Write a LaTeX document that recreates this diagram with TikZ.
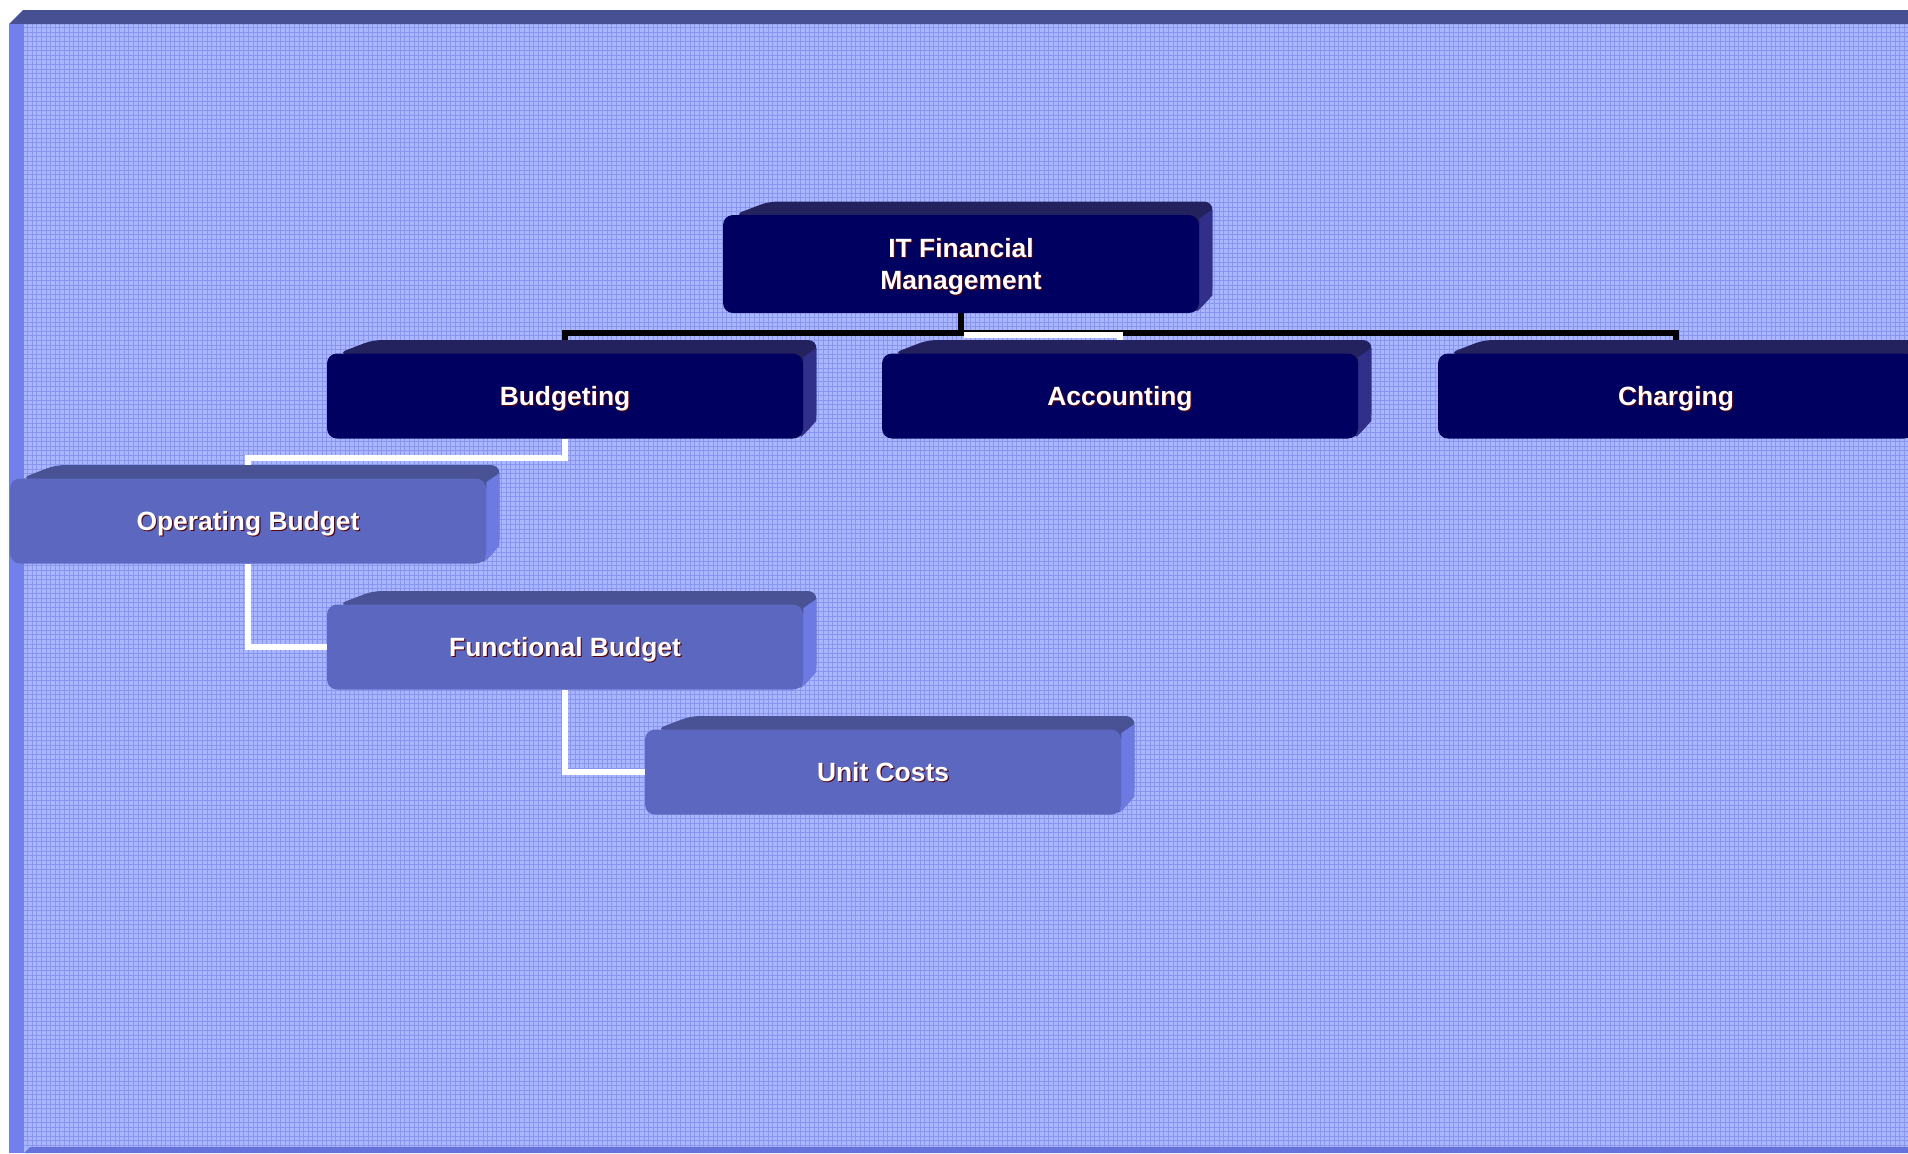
\documentclass[tikz,border=0pt]{standalone}
\usepackage{fontspec}
\setmainfont{Liberation Sans}
\usetikzlibrary{calc}
\definecolor{darkfront}{HTML}{000060}
\definecolor{darktop}{HTML}{23225F}
\definecolor{darkside}{HTML}{30308A}
\definecolor{lightfront}{HTML}{5C68C0}
\definecolor{lighttop}{HTML}{4A5296}
\definecolor{lightside}{HTML}{6C7AE2}
\definecolor{framebg}{HTML}{AAB6FD}
\definecolor{gridc}{HTML}{8896F2}
\definecolor{frametop}{HTML}{485094}
\definecolor{frameleft}{HTML}{7280EC}
\definecolor{framebottom}{HTML}{6672DC}
\definecolor{shadowc}{HTML}{5A0000}
\pgfdeclarelayer{bg}\pgfdeclarelayer{conn}\pgfdeclarelayer{ext}
\pgfsetlayers{bg,conn,ext,main}
\newcommand\shtext[1]{\makebox[0pt][l]{\raisebox{-0.6pt}{\kern0.6pt\textcolor{shadowc}{#1}}}#1}
\newcommand\extrude[3]{%
\begin{pgfonlayer}{ext}
\fill[#2, rounded corners=4pt] ($(#1.north west)+(12,0)$) -- ($(#1.north west)+(46,-13)$) -- ($(#1.north east)+(13,-13)$) -- ($(#1.south east)+(13,-18)$) -- ($(#1.south east)+(-4,0)$) -- cycle;
\fill[#3] ($(#1.north east)+(0,4)$) -- ($(#1.north east)+(13,-5)$) -- ($(#1.south east)+(13,-18)$) -- ($(#1.south east)+(-2,-2)$) -- cycle;
\end{pgfonlayer}}
\tikzset{
 box/.style={rectangle, rounded corners=5pt, minimum width=238pt, minimum height=42.5pt, inner sep=0pt, text=white, font=\bfseries\fontsize{13.2}{16}\selectfont, align=center, text height=9.5pt, text depth=0pt},
 darkbox/.style={box, fill=darkfront},
 lightbox/.style={box, fill=lightfront},
 blk/.style={line width=2.6pt, black},
 wht/.style={line width=2.6pt, white},
}
\begin{document}
\begin{tikzpicture}[x=0.5pt,y=-0.5pt]
\useasboundingbox (0,0) rectangle (1908,1153);
\begin{pgfonlayer}{bg}
\fill[white] (0,0) rectangle (1908,1153);
\fill[framebg] (24,24) rectangle (1908,1153);
\draw[gridc, line width=0.5pt, step=2.3pt] (24,24) grid (1908,1147);
\fill[frametop] (9,24) -- (23,10) -- (1908,10) -- (1908,24) -- cycle;
\fill[frameleft] (9,24) rectangle (24,1153);
\fill[framebottom] (24,1153) -- (30,1147) -- (1908,1147) -- (1908,1153) -- cycle;
\end{pgfonlayer}

\node[darkbox, minimum height=49pt, text height=25.5pt, text depth=0pt] (itfm) at (961,264) {\shtext{IT Financial}\\\shtext{Management}};
\extrude{itfm}{darktop}{darkside}
\node[darkbox] (budg) at (565,396) {\shtext{Budgeting}};
\extrude{budg}{darktop}{darkside}
\node[darkbox] (acct) at (1120,396) {\shtext{Accounting}};
\extrude{acct}{darktop}{darkside}
\node[darkbox] (charg) at (1676,396) {\shtext{Charging}};
\extrude{charg}{darktop}{darkside}
\node[lightbox] (op) at (248,521) {\shtext{Operating Budget}};
\extrude{op}{lighttop}{lightside}
\node[lightbox] (func) at (565,647) {\shtext{Functional Budget}};
\extrude{func}{lighttop}{lightside}
\node[lightbox] (unit) at (883,772) {\shtext{Unit Costs}};
\extrude{unit}{lighttop}{lightside}

\begin{pgfonlayer}{conn}
\draw[blk] (budg.north) -- (budg.north |- 0,333) -- (charg.north |- 0,333) -- (charg.north);
\draw[blk] (itfm.south) -- (itfm.south |- 0,334);
\draw[wht] ($(itfm.south |- 0,335)+(3,0)$) -| (acct.north);
\draw[wht] (budg.south) -- (budg.south |- 0,458) -| (op.north);
\draw[wht] (op.south) |- (func.west);
\draw[wht] (func.south) |- (unit.west);
\end{pgfonlayer}
\end{tikzpicture}
\end{document}
